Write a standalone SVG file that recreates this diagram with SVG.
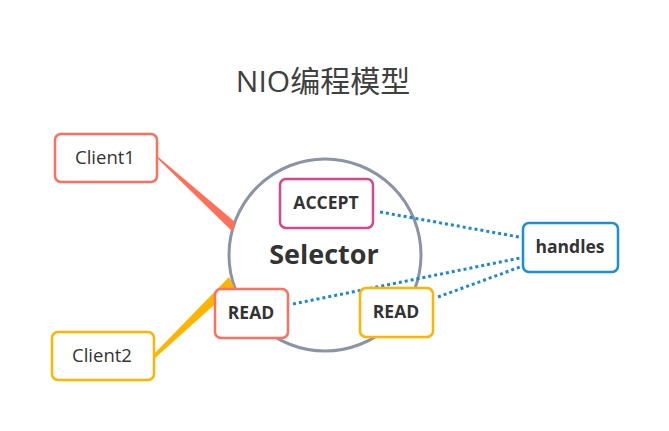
<svg xmlns="http://www.w3.org/2000/svg" width="669" height="431" viewBox="0 0 669 431">
<style>
.box{fill:#fff;stroke-width:2.5}
.t{font-family:"Open Sans","Noto Sans",sans-serif;fill:#333;text-anchor:middle;font-size:17.5px}
.c{font-size:18.5px}
.b{font-weight:bold}
.dot{fill:none;stroke:#1A8AD0;stroke-width:3;stroke-dasharray:3 3}
</style>
<rect width="669" height="431" fill="#fff"/>
<text x="323" y="92" style="font-size:30px;font-family:'Open Sans','Noto Sans CJK SC',sans-serif;fill:#404040;text-anchor:middle">NIO编程模型</text>
<g id="selector">
<circle cx="325" cy="255" r="96" fill="#fff" stroke="#8A94A6" stroke-width="3"/>
<text class="t b" x="324" y="264" style="font-size:27px">Selector</text>
</g>
<g id="connectors">
<polygon points="157,156 159,160 233,232 235,222" fill="#FF6F5A"/>
<polygon points="154,354 155,358 234,287 229,277" fill="#FFB400"/>
<line class="dot" x1="380" y1="212" x2="519" y2="237"/>
<line class="dot" x1="293" y1="304" x2="520" y2="258"/>
<line class="dot" x1="438" y1="297" x2="520" y2="267"/>
</g>
<g id="client1">
<rect class="box" x="55" y="134" width="102" height="48" rx="6" stroke="#FF6F5A"/>
<text class="t c" x="105" y="164">Client1</text>
</g>
<g id="client2">
<rect class="box" x="52" y="332" width="102" height="48" rx="6" stroke="#FFB400"/>
<text class="t c" x="102" y="362">Client2</text>
</g>
<g id="accept">
<rect class="box" x="280" y="179" width="93" height="49" rx="6" stroke="#D4488C"/>
<text class="t b" x="326" y="209">ACCEPT</text>
</g>
<g id="read1">
<rect class="box" x="215" y="289" width="73" height="49" rx="6" stroke="#FF7060"/>
<text class="t b" x="251" y="319">READ</text>
</g>
<g id="read2">
<rect class="box" x="360" y="288" width="73" height="49" rx="6" stroke="#FFB400"/>
<text class="t b" x="396" y="318">READ</text>
</g>
<g id="handles">
<rect class="box" x="523" y="223" width="95" height="49" rx="6" stroke="#1A8FD9"/>
<text class="t b" x="570" y="253">handles</text>
</g>
</svg>
